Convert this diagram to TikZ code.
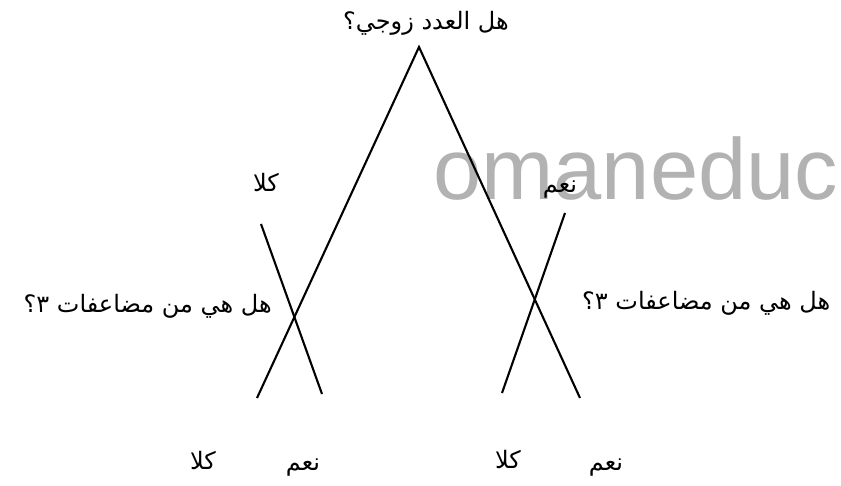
\documentclass[tikz,border=0pt]{standalone}
\usepackage{fontspec}
\TeXXeTstate=1
\newfontfamily\arabicfont[Script=Arabic]{DejaVu Sans}
\newfontfamily\wmfont{Liberation Sans}
\begin{document}
\begin{tikzpicture}[x=1pt,y=-1pt,
  ar/.style={font=\arabicfont\fontsize{24}{28}\selectfont, inner sep=0pt},
  branch/.style={line width=2.1pt, line cap=butt},
  wmark/.style={font=\wmfont\fontsize{86.7}{90}\selectfont, text=black!30, inner sep=0pt}]
\useasboundingbox (0,0) rectangle (841,486);
% watermark
\node[wmark, anchor=base west] (wm) at (433,200) {omaneduc};
% line ends
\coordinate (apex) at (419,47);
\coordinate (lend) at (257,398);
\coordinate (rend) at (580,398);
\coordinate (lstart) at (261,224);
\coordinate (lstop) at (322,394);
\coordinate (rstart) at (565,213);
\coordinate (rstop) at (502,393);
\draw[branch] (lend) -- (apex) -- (rend);
\draw[branch] (lstart) -- (lstop);
\draw[branch] (rstart) -- (rstop);
% labels
\node[ar] (q0) at (426,23) {\beginR هل العدد زوجي؟\endR};
\node[ar] (noTop) at (266,183) {\beginR كلا\endR};
\node[ar] (yesTop) at (560,190) {\beginR نعم\endR};
\node[ar, anchor=east] (qL) at (272,306) {\beginR هل هي من مضاعفات ٣؟\endR};
\node[ar, anchor=west] (qR) at (582,303) {\beginR هل هي من مضاعفات ٣؟\endR};
\node[ar] (noL) at (203,460) {\beginR كلا\endR};
\node[ar] (yesL) at (303,468) {\beginR نعم\endR};
\node[ar] (noR) at (508,459) {\beginR كلا\endR};
\node[ar] (yesR) at (606,468) {\beginR نعم\endR};
\end{tikzpicture}
\end{document}
